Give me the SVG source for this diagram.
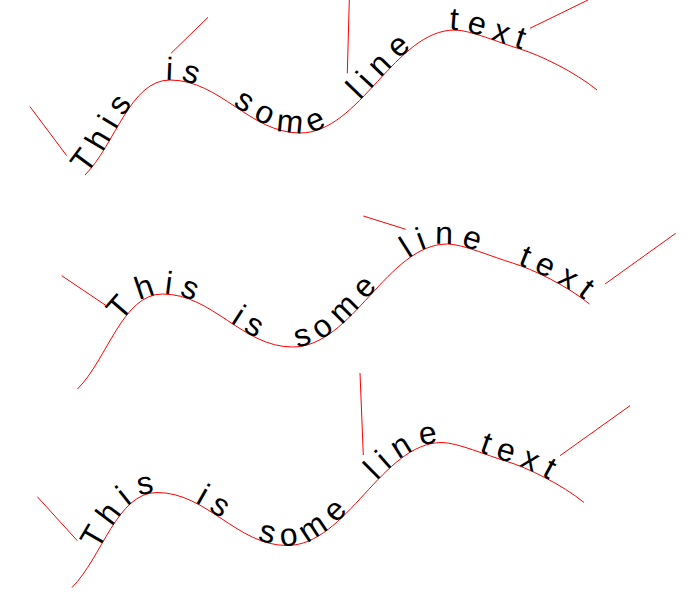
<svg xmlns="http://www.w3.org/2000/svg" xmlns:xlink="http://www.w3.org/1999/xlink" width="693" height="597" viewBox="0 0 693 597">
<style>
.curve{fill:none;stroke:#ff0000;stroke-width:1}
.tick{stroke:#ff0000;stroke-width:1;fill:none}
.lbl{font-family:"Liberation Sans",Arial,sans-serif;font-size:32px;fill:#000;letter-spacing:8px;word-spacing:17px}
</style>
<defs>
<path id="wave" d="M85,175 C115,145 130,80 170,80 C220,80 250,133 300,133 C360,133 395,30 455,30 C470,30 500,43 520,49 C540,55 575,72 597,90"/>
</defs>
<rect width="693" height="597" fill="#fff"/>
<g id="row1">
<use href="#wave" class="curve"/>
<text class="lbl"><textPath href="#wave" startOffset="1">This is some line text</textPath></text>
</g>
<g id="row2" transform="translate(-7.5,214)">
<use href="#wave" class="curve"/>
<text class="lbl"><textPath href="#wave" startOffset="80">This is some line text</textPath></text>
</g>
<g id="row3" transform="translate(-13,412.5)">
<use href="#wave" class="curve"/>
<text class="lbl"><textPath href="#wave" startOffset="45">This is some line text</textPath></text>
</g>
<g id="connectors">
<line class="tick" x1="30" y1="106.7" x2="66.7" y2="155.7"/>
<line class="tick" x1="171" y1="53.3" x2="208" y2="17.3"/>
<line class="tick" x1="349.3" y1="0" x2="347.3" y2="73.3"/>
<line class="tick" x1="530" y1="28.3" x2="588" y2="0"/>
<line class="tick" x1="61.7" y1="275.7" x2="106.7" y2="306"/>
<line class="tick" x1="363.3" y1="216" x2="405.7" y2="229.3"/>
<line class="tick" x1="605" y1="284" x2="675.7" y2="233.3"/>
<line class="tick" x1="37.3" y1="496.7" x2="77.3" y2="540.7"/>
<line class="tick" x1="360" y1="373" x2="363.3" y2="455"/>
<line class="tick" x1="560" y1="455.7" x2="630" y2="405.7"/>
</g>
</svg>
